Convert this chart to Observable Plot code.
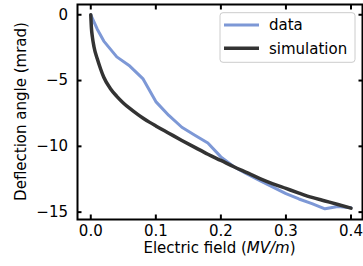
<!DOCTYPE html>
<html>
<head>
<meta charset="utf-8">
<script src="https://cdn.jsdelivr.net/npm/d3@7"></script>
<script src="https://cdn.jsdelivr.net/npm/@observablehq/plot@0.6"></script>
<style>
  html, body { margin: 0; padding: 0; background: #fff; }
  #chart { position: relative; width: 363px; height: 266px; }
</style>
</head>
<body>
<div id="chart"></div>
<script>
// Measured data (electric field in MV/m, deflection angle in mrad)
const dataField = [0, 0.01, 0.02, 0.04, 0.06, 0.08, 0.10, 0.12, 0.14, 0.16, 0.18, 0.20, 0.22, 0.24, 0.26, 0.28, 0.30, 0.32, 0.34, 0.36, 0.38, 0.40];
const dataAngle = [0, -1.1, -2.0, -3.2, -3.9, -4.85, -6.6, -7.65, -8.55, -9.15, -9.75, -10.8, -11.55, -12.1, -12.6, -13.1, -13.6, -14.0, -14.35, -14.75, -14.57, -14.67];

// Simulation
const simField = [0, 0.001, 0.0025, 0.005, 0.01, 0.015, 0.02, 0.03, 0.04, 0.05, 0.06, 0.07, 0.08, 0.09, 0.10, 0.12, 0.14, 0.16, 0.18, 0.20, 0.22, 0.24, 0.26, 0.28, 0.30, 0.32, 0.34, 0.36, 0.38, 0.40];
const simAngle = [0, -1.0, -1.7, -2.45, -3.35, -4.1, -4.75, -5.6, -6.2, -6.7, -7.12, -7.5, -7.84, -8.16, -8.45, -9.0, -9.55, -10.08, -10.6, -11.07, -11.55, -12.0, -12.45, -12.85, -13.2, -13.55, -13.88, -14.15, -14.42, -14.7];

const xTicks = [0, 0.1, 0.2, 0.3, 0.4];
const yTicks = [0, -5, -10, -15];

const seriesNames = ["data", "simulation"];
const seriesColors = ["#7d98d6", "#333333"];

const dataRows = dataField.map((x, i) => ({x, y: dataAngle[i]}));
const simRows = simField.map((x, i) => ({x, y: simAngle[i]}));

const font = "DejaVu Sans, sans-serif";

const chart = Plot.plot({
  width: 363,
  height: 266,
  marginLeft: 77,
  marginRight: 1,
  marginTop: 4,
  marginBottom: 47,
  style: {fontFamily: font, fontSize: "15px", color: "#000", background: "#fff"},
  x: {domain: [-0.0204, 0.4177], label: null},
  y: {domain: [-15.56, 0.78], label: null},
  marks: [
    Plot.line(dataRows, {x: "x", y: "y", stroke: seriesColors[0], strokeWidth: 3}),
    Plot.line(simRows, {x: "x", y: "y", stroke: seriesColors[1], strokeWidth: 3.5, curve: "monotone-x"}),
    // labels
    Plot.axisX({ticks: xTicks, tickSize: 0, tickPadding: 6, tickFormat: d3.format(".1f"), label: null, fontSize: 15}),
    Plot.axisY({ticks: yTicks, tickSize: 0, tickPadding: 9.5, tickFormat: d3.format("d"), label: null, fontSize: 15}),
    // inward ticks on all four sides
    Plot.axisX({ticks: xTicks, anchor: "bottom", tickSize: -4.5, strokeWidth: 2, tickFormat: () => "", label: null}),
    Plot.axisX({ticks: xTicks, anchor: "top", tickSize: -4.5, strokeWidth: 2, tickFormat: () => "", label: null}),
    Plot.axisY({ticks: yTicks, anchor: "left", tickSize: -4.5, strokeWidth: 2, tickFormat: () => "", label: null}),
    Plot.axisY({ticks: yTicks, anchor: "right", tickSize: -4.5, strokeWidth: 2, tickFormat: () => "", label: null}),
    Plot.frame({stroke: "#000", strokeWidth: 2})
  ]
});

document.getElementById("chart").appendChild(chart);

const svg = d3.select(chart);
// Axis titles
const xl = svg.append("text")
  .attr("x", 219.5).attr("y", 253)
  .attr("text-anchor", "middle")
  .attr("font-family", font).attr("font-size", 15).attr("fill", "#000");
xl.append("tspan").text("Electric field (");
xl.append("tspan").attr("font-style", "italic").text("MV/m");
xl.append("tspan").text(")");

svg.append("text")
  .attr("transform", "translate(26,111.5) rotate(-90)")
  .attr("text-anchor", "middle")
  .attr("font-family", font).attr("font-size", 15).attr("fill", "#000")
  .text("Deflection angle (mrad)");

// Legend
const lg = svg.append("g");
lg.append("rect")
  .attr("x", 220).attr("y", 12.7).attr("width", 135).attr("height", 49.6)
  .attr("rx", 3).attr("fill", "#fff").attr("fill-opacity", 0.8)
  .attr("stroke", "#cccccc").attr("stroke-width", 1);
seriesNames.forEach((name, i) => {
  const cy = 25 + i * 23.3;
  lg.append("line")
    .attr("x1", 224).attr("x2", 259).attr("y1", cy).attr("y2", cy)
    .attr("stroke", seriesColors[i]).attr("stroke-width", i === 0 ? 3 : 3.5);
  lg.append("text")
    .attr("x", 269).attr("y", cy + 5.3)
    .attr("text-anchor", "start")
    .attr("font-family", font).attr("font-size", 15).attr("fill", "#000")
    .text(name);
});
</script>
</body>
</html>
